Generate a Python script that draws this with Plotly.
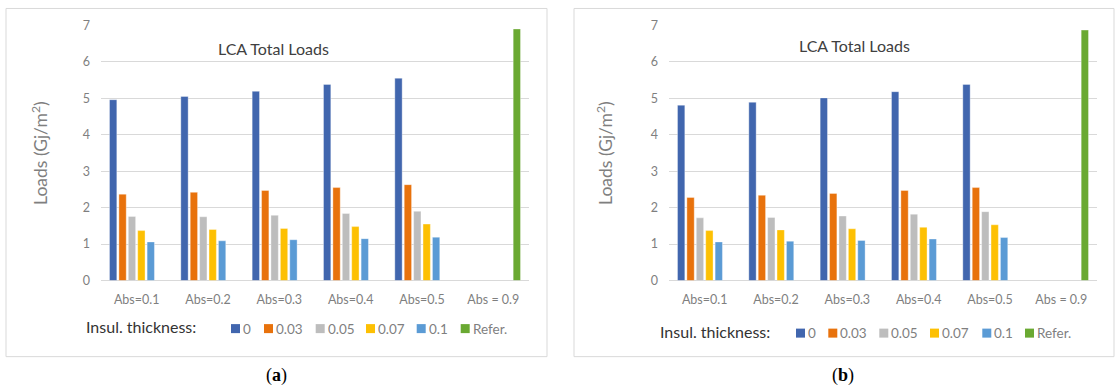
import plotly.graph_objects as go

# ---- data -------------------------------------------------------------
categories = ["Abs=0.1", "Abs=0.2", "Abs=0.3", "Abs=0.4", "Abs=0.5", "Abs = 0.9"]
series_names = ["0", "0.03", "0.05", "0.07", "0.1", "Refer."]
series_colors = ["#4166AE", "#E8720C", "#BDBDBD", "#FDC003", "#5B9BD5", "#6AA932"]
y_ticks = [0, 1, 2, 3, 4, 5, 6, 7]

# panel (a)
a_t0 = [4.96, 5.05, 5.19, 5.38, 5.55, None]
a_t003 = [2.37, 2.42, 2.47, 2.55, 2.63, None]
a_t005 = [1.76, 1.75, 1.79, 1.84, 1.90, None]
a_t007 = [1.37, 1.40, 1.43, 1.48, 1.55, None]
a_t01 = [1.06, 1.09, 1.12, 1.15, 1.19, None]
a_ref = [None, None, None, None, None, 6.90]

# panel (b)
b_t0 = [4.81, 4.89, 5.01, 5.18, 5.38, None]
b_t003 = [2.28, 2.34, 2.39, 2.47, 2.55, None]
b_t005 = [1.72, 1.73, 1.77, 1.82, 1.89, None]
b_t007 = [1.37, 1.39, 1.42, 1.46, 1.53, None]
b_t01 = [1.06, 1.08, 1.10, 1.14, 1.18, None]
b_ref = [None, None, None, None, None, 6.87]

panel_a = [a_t0, a_t003, a_t005, a_t007, a_t01, a_ref]
panel_b = [b_t0, b_t003, b_t005, b_t007, b_t01, b_ref]

# ---- figure -----------------------------------------------------------
W, H = 1120, 389
FONT = "Lato, Open Sans, sans-serif"
GRID = "#D9D9D9"
TICK_GRAY = "#7F7F7F"

# vertical page placement: layout rows are given in page pixels and mapped
# onto the figure with the page's top padding and vertical scale
PAD_TOP = 7.7
V_SCALE = 0.9605


def px_x(x):
    return x / W


def px_y(y):
    fy = (y - PAD_TOP) / V_SCALE
    fy = min(max(fy, 0.5), H - 0.5)
    return 1 - fy / H


fig = go.Figure()

for axis_suffix, panel in (("", panel_a), ("2", panel_b)):
    for name, color, values in zip(series_names, series_colors, panel):
        fig.add_trace(go.Bar(
            x=categories, y=values, name=name,
            marker=dict(color=color, line=dict(color="rgba(255,255,255,0.45)", width=0.8)),
            xaxis="x" + axis_suffix, yaxis="y" + axis_suffix,
            showlegend=False,
        ))

axis_common_x = dict(
    showgrid=False, zeroline=False, showline=False, ticks="",
    tickfont=dict(family=FONT, size=12.5, color=TICK_GRAY),
    ticklabelstandoff=10, fixedrange=True,
)
axis_common_y = dict(
    range=[0, 7], tickvals=y_ticks, showgrid=True, gridcolor=GRID, gridwidth=1,
    zeroline=True, zerolinecolor=GRID, zerolinewidth=1.2, showline=False, ticks="",
    tickfont=dict(family=FONT, size=12.5, color=TICK_GRAY),
    ticklabelstandoff=10, fixedrange=True,
)

y_dom = [px_y(280), px_y(25)]
fig.update_layout(
    width=W, height=H,
    margin=dict(l=0, r=0, t=0, b=0),
    paper_bgcolor="white", plot_bgcolor="white",
    barmode="group", bargap=0.209, bargroupgap=0.22,
    xaxis=dict(domain=[px_x(101), px_x(529)], anchor="y", **axis_common_x),
    yaxis=dict(domain=y_dom, anchor="x", **axis_common_y),
    xaxis2=dict(domain=[px_x(669), px_x(1097)], anchor="y2", **axis_common_x),
    yaxis2=dict(domain=y_dom, anchor="x2", **axis_common_y),
)

shapes = []
annotations = []

# panel frames
for x0, x1 in ((6, 547), (574, 1114)):
    shapes.append(dict(type="rect", xref="paper", yref="paper",
                       x0=px_x(x0), x1=px_x(x1), y0=px_y(356), y1=px_y(7),
                       line=dict(color=GRID, width=1), fillcolor="rgba(0,0,0,0)"))

panel_layout = [
    # title centre, y-label x, legend heading x, legend y, square lefts, caption
    dict(title=(273, 48), ylab=40, head=84, head_y=325.7, leg_y=328,
         squares=[231, 264, 315.7, 366, 416.7, 460.7], cap=(276, 375), letter="a"),
    dict(title=(854, 45), ylab=605, head=658, head_y=330.7, leg_y=332.5,
         squares=[796, 828.3, 879.3, 930, 982.3, 1025], cap=(843, 375), letter="b"),
]

for p in panel_layout:
    annotations.append(dict(
        text="LCA Total Loads", x=px_x(p["title"][0]), y=px_y(p["title"][1]),
        xref="paper", yref="paper", showarrow=False, xanchor="center", yanchor="middle",
        font=dict(family=FONT, size=16, color="#404040")))
    annotations.append(dict(
        text="Loads (Gj/m<sup>2</sup>)", x=px_x(p["ylab"]), y=px_y(152.5),
        xref="paper", yref="paper", showarrow=False, textangle=-90,
        xanchor="center", yanchor="middle",
        font=dict(family=FONT, size=17.5, color=TICK_GRAY)))
    annotations.append(dict(
        text="Insul. thickness:", x=px_x(p["head"]), y=px_y(p["head_y"]),
        xref="paper", yref="paper", showarrow=False, xanchor="left", yanchor="middle",
        font=dict(family=FONT, size=16, color="#333333")))
    for name, color, sx in zip(series_names, series_colors, p["squares"]):
        shapes.append(dict(type="rect", xref="paper", yref="paper",
                           x0=px_x(sx), x1=px_x(sx + 9),
                           y0=px_y(p["leg_y"] + 4.5), y1=px_y(p["leg_y"] - 4.5),
                           line=dict(width=0), fillcolor=color))
        annotations.append(dict(
            text=name, x=px_x(sx + 10), y=px_y(p["leg_y"]),
            xref="paper", yref="paper", showarrow=False, xanchor="left", yanchor="middle",
            font=dict(family=FONT, size=13.5, color=TICK_GRAY)))
    annotations.append(dict(
        text="(<b>%s</b>)" % p["letter"], x=px_x(p["cap"][0]), y=px_y(p["cap"][1]),
        xref="paper", yref="paper", showarrow=False, xanchor="center", yanchor="middle",
        font=dict(family="Liberation Serif, serif", size=18, color="#000000")))

fig.update_layout(shapes=shapes, annotations=annotations)

fig.write_html("out.html")
